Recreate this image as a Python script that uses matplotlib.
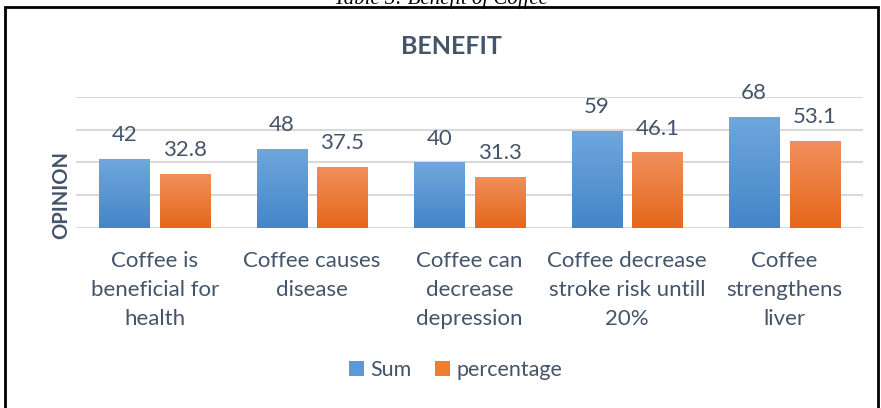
import matplotlib.pyplot as plt
import numpy as np
from matplotlib.patches import Rectangle
from matplotlib.colors import LinearSegmentedColormap

categories = ["Coffee is\nbeneficial for\nhealth", "Coffee causes\ndisease",
              "Coffee can\ndecrease\ndepression", "Coffee decrease\nstroke risk untill\n20%",
              "Coffee\nstrengthens\nliver"]
sum_vals = [42, 48, 40, 59, 68]
pct_vals = [32.8, 37.5, 31.3, 46.1, 53.1]
series = ["Sum", "percentage"]

txt = "#44546A"
plt.rcParams['font.family'] = ['Lato', 'DejaVu Sans']

fig = plt.figure(figsize=(8.81, 4.08), dpi=100)
ax = fig.add_axes([0.0863, 0.4412, 0.8933, 0.3211])

x = np.arange(len(categories))
w = 0.318
off = 0.193

blue = LinearSegmentedColormap.from_list("b", ["#4485C8", "#6FA7DD"])
orange = LinearSegmentedColormap.from_list("o", ["#E5671A", "#F18F5C"])
grad = np.linspace(0, 1, 100).reshape(-1, 1)

def grad_bars(xs, vals, cmap, color, label):
    bars = ax.bar(xs, vals, w, color=color, label=label, zorder=2)
    for b in bars:
        x0, y0 = b.get_x(), b.get_y()
        im = ax.imshow(grad, cmap=cmap, origin="lower", aspect="auto",
                       extent=[x0, x0 + b.get_width(), y0, y0 + b.get_height()], zorder=3)
        im.set_clip_path(b)
    for xi, v in zip(xs, vals):
        ax.annotate(f"{v:g}", (xi, v), xytext=(0, 10), textcoords="offset points",
                    ha="center", va="bottom", fontsize=16, color=txt)
    return bars

grad_bars(x - off, sum_vals, blue, "#5B9BD5", series[0])
grad_bars(x + off, pct_vals, orange, "#ED7D31", series[1])

ax.set_xlim(-0.5, len(categories) - 0.5)
ax.set_ylim(0, 80)
ax.set_yticks([0, 20, 40, 60, 80])
ax.yaxis.grid(True, color="#D9D9D9", lw=1.5, zorder=0)
ax.set_axisbelow(True)
ax.tick_params(left=False, labelleft=False, bottom=False)
for s in ["top", "right", "left", "bottom"]:
    ax.spines[s].set_visible(False)
ax.set_xticks(x, labels=categories, fontsize=16, color=txt, linespacing=1.58)
ax.tick_params(axis="x", pad=13)

fig.text(61 / 881, 1 - 195 / 408, "OPINION", rotation=90, ha="center", va="center",
         fontsize=14.5, fontweight="bold", color=txt)
fig.text(0.512, 0.887, "BENEFIT", ha="center", va="center", fontsize=18,
         fontweight="bold", color=txt)

leg = fig.legend(loc="center", bbox_to_anchor=(0.517, 0.093), ncol=2, frameon=False,
                 fontsize=15.5, handlelength=0.7, handleheight=0.7, handletextpad=0.3,
                 columnspacing=1.1)
for t in leg.get_texts():
    t.set_color(txt)

fig.add_artist(Rectangle((0.006, -0.01), 0.991, 0.993, transform=fig.transFigure,
                         fill=False, edgecolor="black", lw=2))
fig.text(0.5, 1 - 4 / 408, "Table 3: Benefit of Coffee", ha="center", va="baseline",
         fontsize=15, family="Liberation Serif", style="italic")

fig.savefig("out.png", dpi=100)
